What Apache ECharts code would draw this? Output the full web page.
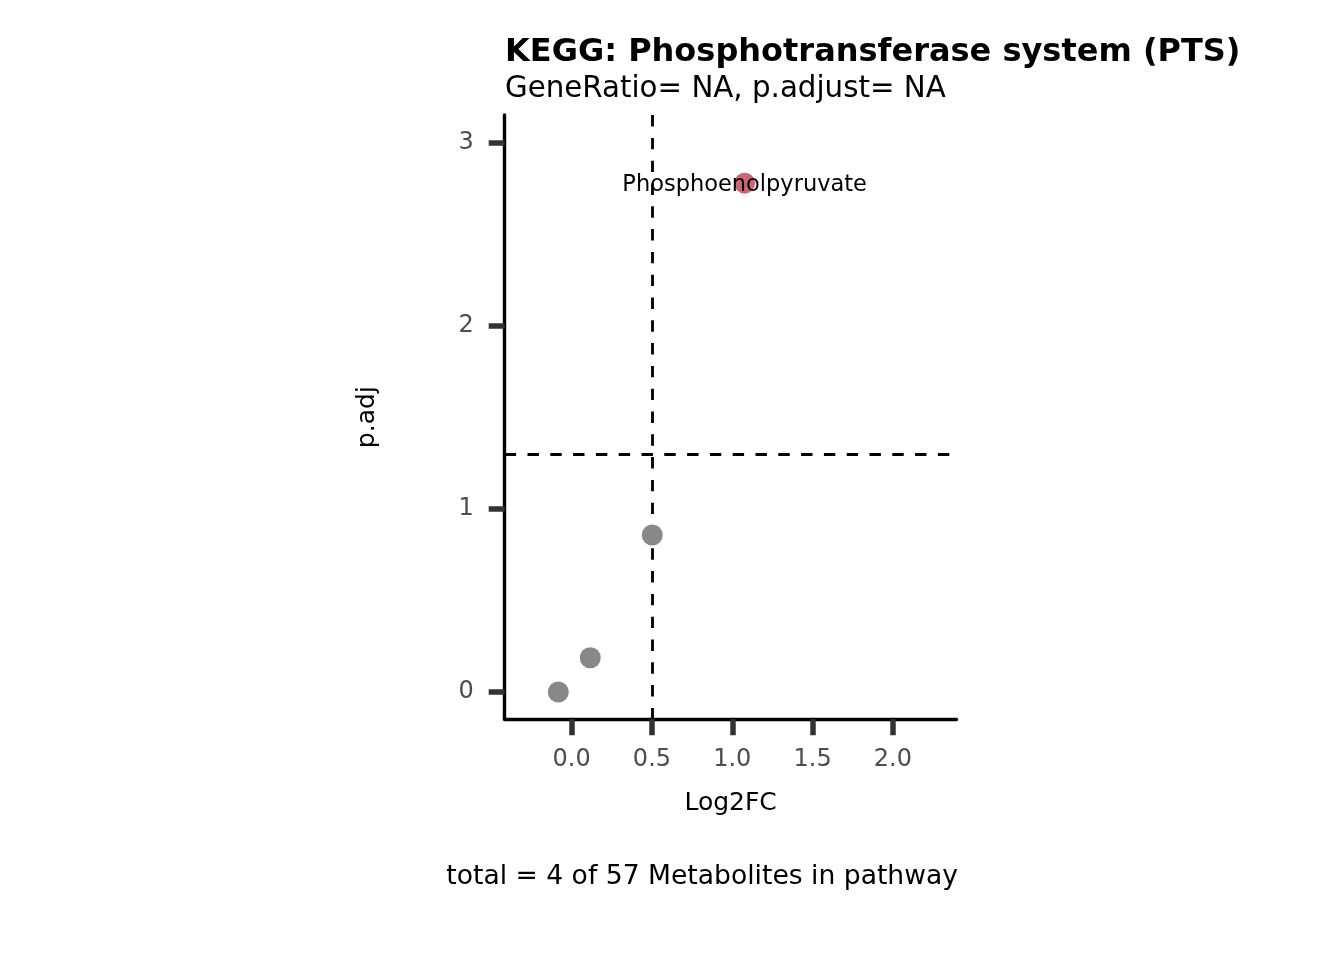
<!DOCTYPE html>
<html>
<head>
<meta charset="utf-8">
<script src="https://cdn.jsdelivr.net/npm/echarts@6/dist/echarts.min.js"></script>
<style>
html,body{margin:0;padding:0;background:#fff;}
#chart{width:1344px;height:960px;}
</style>
</head>
<body>
<div id="chart"></div>
<script>
// ---- data ----
const metaboliteNames = ['', '', '', 'Phosphoenolpyruvate'];
const log2fc = [-0.083, 0.116, 0.502, 1.077];
const padj = [0.0, 0.187, 0.857, 2.777];
const significant = [false, false, false, true];
const xTicks = [0, 0.5, 1.0, 1.5, 2.0];
const yTicks = [0, 1, 2, 3];
const fcCutoff = 0.5;
const padjCutoff = 1.30103; // -log10(0.05)
const titleText = 'KEGG: Phosphotransferase system (PTS)';
const subtitleText = 'GeneRatio= NA, p.adjust= NA';
const captionText = 'total = 4 of 57 Metabolites in pathway';

const FONT = 'DejaVu Sans';

const nsData = [], sigData = [];
for (let i = 0; i < log2fc.length; i++) {
  const d = { value: [log2fc[i], padj[i]], name: metaboliteNames[i] };
  (significant[i] ? sigData : nsData).push(d);
}

const chart = echarts.init(document.getElementById('chart'), null, { renderer: 'canvas' });
chart.setOption({
  backgroundColor: '#ffffff',
  animation: false,
  title: [
    {
      text: titleText,
      subtext: subtitleText,
      left: 505,
      top: 37,
      padding: 0,
      itemGap: 6,
      textStyle: { fontFamily: FONT, fontSize: 32, fontWeight: 'bold', color: '#000000' },
      subtextStyle: { fontFamily: FONT, fontSize: 29.3, color: '#000000' }
    },
    {
      text: captionText,
      right: 386,
      top: 864,
      padding: 0,
      textStyle: { fontFamily: FONT, fontSize: 26.6, fontWeight: 'normal', color: '#000000' }
    }
  ],
  grid: { left: 504.7, right: 387.5, top: 115, bottom: 240.7, containLabel: false },
  xAxis: {
    type: 'value',
    min: -0.4167,
    max: 2.396,
    name: 'Log2FC',
    nameLocation: 'middle',
    nameGap: 72,
    nameTextStyle: { fontFamily: FONT, fontSize: 25, color: '#000000' },
    axisLine: { show: true, onZero: false, lineStyle: { color: '#000000', width: 3.4 } },
    axisTick: { show: true, length: 16, customValues: xTicks, lineStyle: { color: '#333333', width: 5.5 } },
    axisLabel: {
      show: true, margin: 28, customValues: xTicks,
      fontFamily: FONT, fontSize: 24, color: '#4D4D4D',
      formatter: v => Number(v).toFixed(1)
    },
    splitLine: { show: false }
  },
  yAxis: {
    type: 'value',
    min: -0.149,
    max: 3.149,
    name: 'p.adj',
    nameLocation: 'middle',
    nameGap: 125,
    nameRotate: 90,
    nameTextStyle: { fontFamily: FONT, fontSize: 25, color: '#000000' },
    axisLine: { show: true, onZero: false, lineStyle: { color: '#000000', width: 3.4 } },
    axisTick: { show: true, length: 16, customValues: yTicks, lineStyle: { color: '#333333', width: 5.5 } },
    axisLabel: {
      show: true, margin: 31, customValues: yTicks,
      fontFamily: FONT, fontSize: 24, color: '#4D4D4D',
      formatter: v => String(Math.round(v))
    },
    splitLine: { show: false }
  },
  series: [
    {
      name: 'not significant',
      type: 'scatter',
      data: nsData,
      symbol: 'circle',
      symbolSize: 21,
      itemStyle: { color: '#888888', opacity: 1 },
      z: 3,
      markLine: {
        silent: true,
        symbol: ['none', 'none'],
        label: { show: false },
        lineStyle: { color: '#000000', width: 2.84, type: [11.4, 11.4] },
        data: [{ xAxis: fcCutoff }, { yAxis: padjCutoff }],
        z: 2
      }
    },
    {
      name: 'significant',
      type: 'scatter',
      data: sigData,
      symbol: 'circle',
      symbolSize: 21,
      itemStyle: { color: '#CC6677', opacity: 1 },
      z: 3,
      label: {
        show: true,
        position: 'inside',
        offset: [0, 2],
        formatter: p => p.name,
        fontFamily: FONT,
        fontSize: 22.5,
        color: '#000000'
      }
    }
  ]
});
</script>
</body>
</html>
